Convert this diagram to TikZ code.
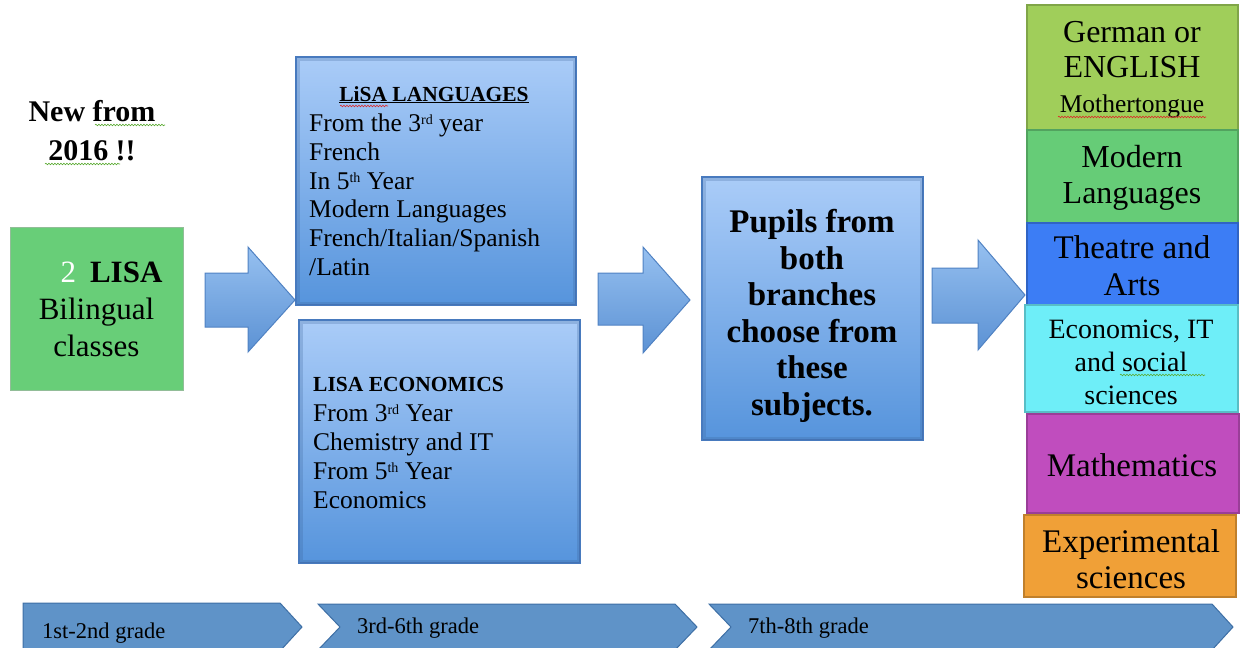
\documentclass[tikz,border=0pt]{standalone}
\usepackage{fontspec}
\setmainfont{Liberation Serif}
\usetikzlibrary{decorations.pathmorphing}
\definecolor{boxtop}{RGB}{170,204,248}
\definecolor{boxbot}{RGB}{86,148,220}
\definecolor{boxline}{RGB}{72,122,190}
\definecolor{arrtop}{RGB}{150,192,240}
\definecolor{arrbot}{RGB}{92,146,212}
\definecolor{arrline}{RGB}{80,130,195}
\definecolor{lisagreen}{RGB}{104,206,120}
\definecolor{germangreen}{RGB}{160,206,90}
\definecolor{modgreen}{RGB}{102,204,119}
\definecolor{theatreblue}{RGB}{60,125,245}
\definecolor{econcyan}{RGB}{110,238,248}
\definecolor{mathmag}{RGB}{192,77,190}
\definecolor{exporange}{RGB}{240,160,55}
\definecolor{chevfill}{RGB}{95,147,200}
\definecolor{chevline}{RGB}{62,111,165}
\definecolor{spellgreen}{RGB}{90,170,50}
\definecolor{spellred}{RGB}{220,40,40}
\newcommand\mysup[1]{\raisebox{7pt}{\fontsize{14}{14}\selectfont #1}}
\tikzset{
  bluebox/.style={draw=boxline, line width=1.5pt, top color=boxtop, bottom color=boxbot},
  boxedge/.style={draw=boxline!80!black, line width=3pt, opacity=0.25},
  blockarrow/.style={draw=arrline, line width=1pt, top color=arrtop, bottom color=arrbot},
  subjbox/.style={line width=1.2pt},
  chevron/.style={draw=chevline, line width=1pt, fill=chevfill},
  txt/.style={inner sep=0pt, text=black},
  wavy/.style={decorate, decoration={snake, segment length=3pt, amplitude=0.8pt}, line width=0.6pt}
}
\begin{document}
\begin{tikzpicture}[x=1pt,y=-1pt]
\useasboundingbox (0,0) rectangle (1243,648);

% New from 2016
\node[txt, align=center, font=\fontsize{30}{39}\selectfont\bfseries] (new) at (92,131) {New from\\2016 !!};
\draw[wavy, spellgreen] (95,125) -- (165,125);
\draw[wavy, spellgreen] (45,164) -- (120,164);

% green start box
\path[draw=lisagreen!70!black!60, line width=1pt, fill=lisagreen] (10,227) rectangle (183,390);
\node[txt, align=center, font=\fontsize{31}{37}\selectfont] (lisa) at (96.5,309)
  {\hspace*{30pt}\textcolor{white}{2}\hspace{14pt}\textbf{LISA}\\Bilingual\\classes};

% arrows
\path[blockarrow] (205,273) -- (248,273) -- (248,247) -- (295,300) -- (248,352) -- (248,327) -- (205,327) -- cycle;
\path[blockarrow] (598,273) -- (643,273) -- (643,247) -- (690,300) -- (643,353) -- (643,325) -- (598,325) -- cycle;
\path[blockarrow] (932,268) -- (978,268) -- (978,240) -- (1025,295) -- (978,350) -- (978,323) -- (932,323) -- cycle;

% LiSA languages box
\path[bluebox] (296,57) rectangle (576,305);
\path[boxedge] (298,59) rectangle (574,303);
\node[txt, anchor=base, font=\fontsize{21.5}{24}\selectfont\bfseries] (langhead) at (434,101) {\underline{LiSA LANGUAGES}};
\draw[wavy, spellred] (340,106) -- (388,106);
\node[txt, anchor=north west, align=left, font=\fontsize{25.5}{28.7}\selectfont] (langbody) at (309,114)
  {From the 3\mysup{rd} year\\French\\In 5\mysup{th} Year\\Modern Languages\\French/Italian/Spanish\\/Latin};

% LISA economics box
\path[bluebox] (299,320) rectangle (580,563);
\path[boxedge] (301,322) rectangle (578,561);
\node[txt, anchor=base west, font=\fontsize{21.5}{24}\selectfont\bfseries] (econhead) at (313,391) {LISA ECONOMICS};
\node[txt, anchor=north west, align=left, font=\fontsize{25.5}{29}\selectfont] (econbody) at (313,404)
  {From 3\mysup{rd} Year\\Chemistry and IT\\From 5\mysup{th} Year\\Economics};

% pupils box
\path[bluebox] (702,177) rectangle (923,440);
\path[boxedge] (704,179) rectangle (921,438);
\node[txt, align=center, font=\fontsize{33}{36.5}\selectfont\bfseries] (pupils) at (812,316)
  {Pupils from\\both\\branches\\choose from\\these\\subjects.};

% subject column
\path[subjbox, fill=germangreen, draw=germangreen!80!black] (1027,5) rectangle (1238,130);
\path[subjbox, fill=modgreen, draw=modgreen!80!black] (1027,130) rectangle (1238,223);
\path[subjbox, fill=theatreblue, draw=theatreblue!80!black] (1027,223) rectangle (1238,305);
\path[subjbox, fill=econcyan, draw=econcyan!80!black] (1025,305) rectangle (1238,412);
\path[subjbox, fill=mathmag, draw=mathmag!80!black] (1027,414) rectangle (1239,513);
\path[subjbox, fill=exporange, draw=exporange!80!black] (1024,515) rectangle (1236,597);

\node[txt, align=center, font=\fontsize{32}{35}\selectfont] (german) at (1132,70)
  {German or\\ENGLISH\\{\fontsize{25.5}{26}\selectfont Mothertongue}};
\draw[wavy, spellred] (1058,117) -- (1206,117);
\node[txt, align=center, font=\fontsize{32}{36}\selectfont] (modern) at (1132,178) {Modern\\Languages};
\node[txt, align=center, font=\fontsize{33}{37}\selectfont] (theatre) at (1132,266) {Theatre and\\Arts};
\node[txt, align=center, font=\fontsize{28}{33}\selectfont] (econ) at (1131,362) {Economics, IT\\and social\\sciences};
\draw[wavy, spellgreen] (1120,375) -- (1205,375);
\node[txt, align=center, font=\fontsize{33}{37}\selectfont] (math) at (1132,465) {Mathematics};
\node[txt, align=center, font=\fontsize{33}{36}\selectfont] (exper) at (1131,559) {Experimental\\sciences};

% bottom chevrons
\path[chevron] (23,603) -- (280,603) -- (302,627) -- (280,651) -- (23,651) -- cycle;
\path[chevron] (318,604) -- (675,604) -- (697,627) -- (675,650) -- (318,650) -- (340,627) -- cycle;
\path[chevron] (709,604) -- (1212,604) -- (1233,627) -- (1212,650) -- (709,650) -- (731,627) -- cycle;
\node[txt, anchor=base west, font=\fontsize{22.5}{24}\selectfont] (g1) at (42,638) {1st-2nd grade};
\node[txt, anchor=base west, font=\fontsize{22.5}{24}\selectfont] (g2) at (357,633) {3rd-6th grade};
\node[txt, anchor=base west, font=\fontsize{22.5}{24}\selectfont] (g3) at (748,633) {7th-8th grade};
\end{tikzpicture}
\end{document}
